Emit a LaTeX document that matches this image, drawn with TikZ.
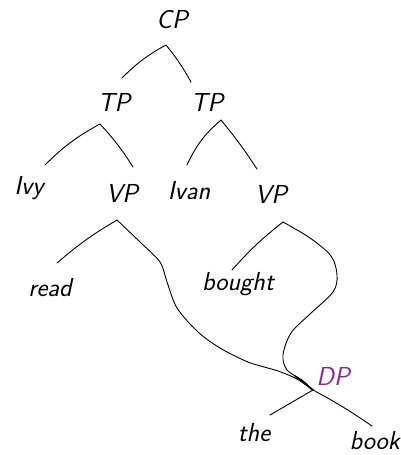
\documentclass[tikz,border=0pt]{standalone}
\usepackage{fontspec}
\definecolor{dpcol}{rgb}{0.55,0.15,0.6}
\begin{document}
\begin{tikzpicture}[x=1pt,y=-1pt,
  lab/.style={inner sep=0pt,font=\fontsize{26}{26}\selectfont\sffamily\slshape},
  br/.style={line width=0.9pt,line cap=round,line join=round}]
\useasboundingbox (0,0) rectangle (401,455);
% labels
\node[lab] (cp) at (172,20) {CP};
\node[lab] (tp1) at (114,102) {TP};
\node[lab] (tp2) at (207,102) {TP};
\node[lab] (ivy) at (29,188) {Ivy};
\node[lab] (vp1) at (122,193) {VP};
\node[lab] (ivan) at (189,191) {Ivan};
\node[lab] (vp2) at (271,194) {VP};
\node[lab] (read) at (50,288) {read};
\node[lab] (bought) at (238,284) {bought};
\node[lab,text=dpcol] (dp) at (333,376) {DP};
\node[lab] (the) at (254,433) {the};
\node[lab,anchor=east] (book) at (400,441) {book};
% branch points
\coordinate (cpA) at (166,45);
\coordinate (tp1E) at (122,78);
\coordinate (tp2E) at (191,82);
\coordinate (tp1A) at (100,124);
\coordinate (ivyE) at (45,165);
\coordinate (vp1E) at (133,167);
\coordinate (tp2A) at (221,120);
\coordinate (ivanE) at (187,165);
\coordinate (vp2E) at (257,169);
\coordinate (vp1A) at (117,220);
\coordinate (readE) at (57,263);
\coordinate (vp2A) at (283,222);
\coordinate (boughtE) at (232,270);
\coordinate (dpA) at (313,390);
\coordinate (theE) at (270,415);
\coordinate (bookE) at (372,426);
% branches
\draw[br] (tp1E) to[bend left=8] (cpA) to[bend left=5] (tp2E);
\draw[br] (ivyE) to[bend left=8] (tp1A) to[bend left=5] (vp1E);
\draw[br] (ivanE) to[bend left=12] (tp2A) to[bend left=3] (vp2E);
\draw[br] (readE) to[bend left=5] (vp1A);
\draw[br] plot[smooth,tension=0.5] coordinates {(vp1A) (140,242) (160,262) (167,282) (177,308) (198,332) (220,348) (248,362) (278,371) (297,379) (dpA)};
\draw[br] (boughtE) to[bend left=5] (vp2A);
\draw[br] plot[smooth,tension=0.55] coordinates {(vp2A) (310,238) (331,256) (337,275) (333,292) (310,314) (291,333) (283,355) (287,370) (302,380) (dpA)};
\draw[br,line width=1.6pt] (295,376) -- (dpA);
\draw[br] (theE) -- (dpA) to[bend left=3] (bookE);
\end{tikzpicture}
\end{document}
